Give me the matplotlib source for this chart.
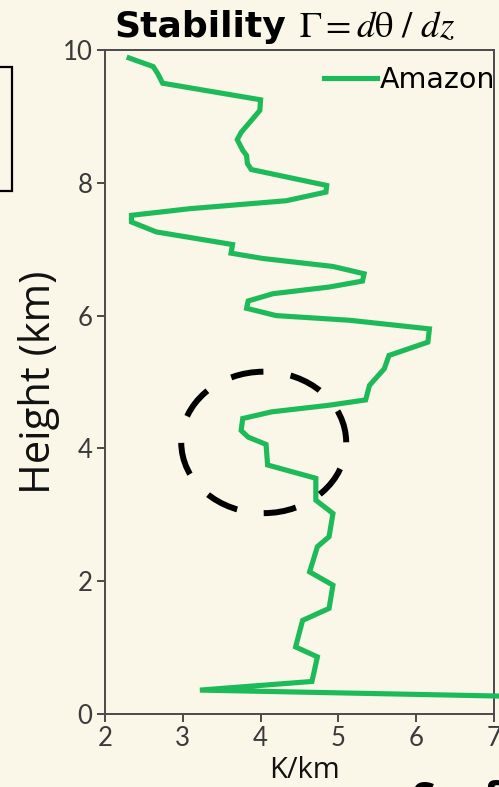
import matplotlib
matplotlib.use("Agg")
import matplotlib.pyplot as plt
from matplotlib.patches import Ellipse, Rectangle

# Stability profile over the Amazon (K/km vs height in km)
stability = [2.31, 2.62, 2.68, 2.74, 4.00, 3.99, 3.86, 3.75, 3.70, 3.77,
             3.82, 3.83, 3.88, 4.85, 4.84, 4.33, 3.09, 2.34, 2.34, 2.66,
             3.64, 3.62, 4.03, 4.93, 5.33, 5.31, 4.88, 4.16, 3.84, 3.82,
             4.20, 5.14, 6.17, 6.15, 5.65, 5.59, 5.40, 5.35, 4.88, 4.14,
             3.77, 3.75, 3.84, 4.07, 4.09, 4.71, 4.71, 4.93, 4.88, 4.73,
             4.63, 4.93, 4.88, 4.54, 4.45, 4.73, 4.66, 3.22, 7.08]
height = [9.88, 9.75, 9.64, 9.50, 9.25, 9.09, 8.91, 8.76, 8.65, 8.49,
          8.41, 8.29, 8.20, 7.96, 7.86, 7.73, 7.61, 7.51, 7.41, 7.26,
          7.07, 6.94, 6.86, 6.74, 6.63, 6.52, 6.43, 6.33, 6.22, 6.11,
          6.00, 5.93, 5.80, 5.60, 5.40, 5.20, 4.95, 4.73, 4.65, 4.55,
          4.45, 4.27, 4.17, 4.06, 3.75, 3.55, 3.22, 3.02, 2.67, 2.52,
          2.14, 1.94, 1.59, 1.41, 1.01, 0.86, 0.49, 0.36, 0.27]

x_ticks = [2, 3, 4, 5, 6, 7]
y_ticks = [0, 2, 4, 6, 8, 10]

bg = "#faf6e8"
green = "#1dba5a"
spine_col = "#4a4a4a"
sans = ["Open Sans", "DejaVu Sans"]
wide = ["DejaVu Sans"]

W, H = 499, 787
plt.rcParams["mathtext.fontset"] = "stix"
fig = plt.figure(figsize=(W / 100, H / 100), dpi=100, facecolor=bg)
ax = fig.add_axes([105 / W, (H - 714) / H, (494 - 105) / W, (714 - 50) / H])
ax.set_facecolor(bg)

ax.plot(stability, height, color=green, lw=3.7, solid_joinstyle="miter",
        label="Amazon", clip_on=False, zorder=3)

ax.set_xlim(2, 7)
ax.set_ylim(0, 10)
ax.set_xticks(x_ticks)
ax.set_yticks(y_ticks)
ax.set_xticklabels([str(v) for v in x_ticks])
ax.set_yticklabels([str(v) for v in y_ticks])

for lab in ax.get_xticklabels() + ax.get_yticklabels():
    lab.set_fontfamily(["Lato", "DejaVu Sans"])
    lab.set_fontsize(18.5)
    lab.set_color("#3a3a3a")

for s in ax.spines.values():
    s.set_color(spine_col)
    s.set_linewidth(1.4)
ax.tick_params(direction="out", length=6, width=1.4, color=spine_col, pad=3)

ax.set_xlabel("K/km", fontsize=21, family=sans, color="#111111")
ax.xaxis.set_label_coords(0.514, -0.064)
ax.set_ylabel("Height (km)", fontsize=30, family=sans, color="#111111",
              labelpad=2)

ax.legend(loc="upper right", bbox_to_anchor=(1.004, 0.976), frameon=False,
          handlelength=1.85, handletextpad=0.12, borderaxespad=0.0,
          borderpad=0.0, prop={"family": wide, "size": 20.5})

# dashed highlight around the mid-level stability minimum
circ = Ellipse((4.04, 4.09), 2.12, 2.13, fill=False, ec="black", lw=4.3,
               ls=(0, (5.5, 4.6)), zorder=4)
ax.add_patch(circ)

# title: bold word plus formula
ty = 1 - 37 / H
fig.text(114 / W, ty, "Stability", fontsize=26, fontweight="bold",
         family=wide, va="baseline", ha="left")
fig.text(299 / W, ty, r"$\Gamma = d\mathrm{\theta}\ /\ dz$", fontsize=26.5,
         va="baseline", ha="left")

# neighbouring panel frame on the left edge
fig.patches.append(Rectangle((-10 / W, (H - 191) / H), 22 / W, 124 / H,
                             transform=fig.transFigure, fill=False,
                             ec="black", lw=1.6))

# heading of the next panel, cut at the bottom edge
fig.text(412 / W, 1 - 780 / H, "Surface", fontsize=31, fontweight="bold",
         family=sans, va="top", ha="left")

fig.savefig("out.png", dpi=100, facecolor=bg)
